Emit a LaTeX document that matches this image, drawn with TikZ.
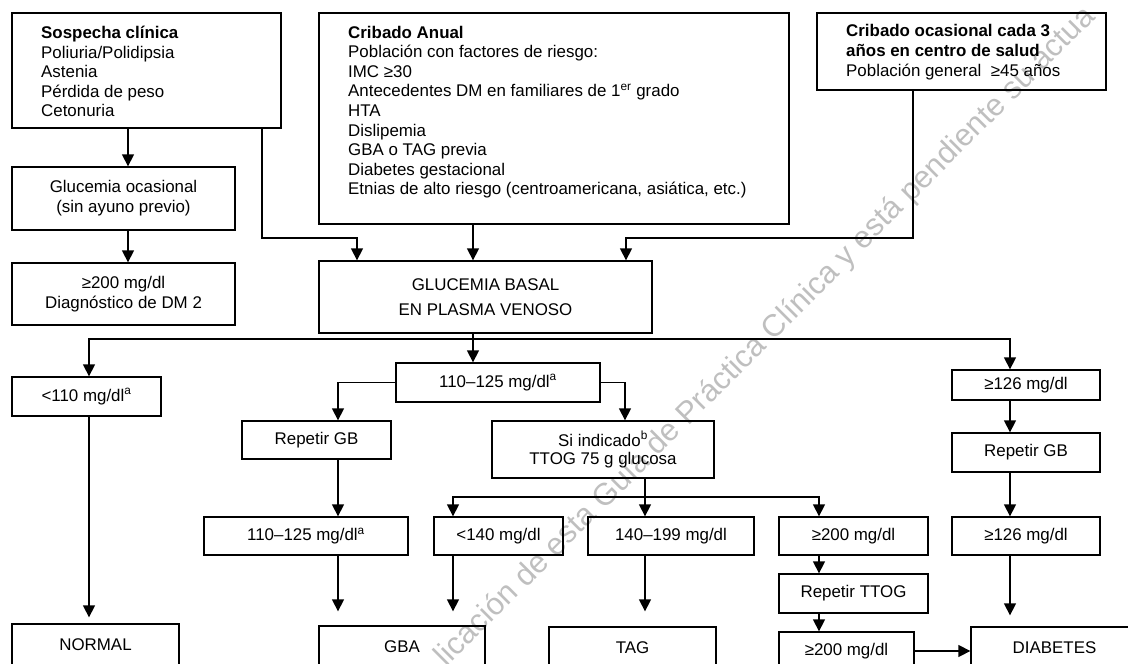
\documentclass[tikz,border=0pt]{standalone}
\usepackage{fontspec}
\setmainfont{Liberation Sans}
\usetikzlibrary{arrows.meta}
\newcommand{\boxfont}{\fontsize{16.9}{20}\selectfont}
\newcommand{\listfont}{\fontsize{16.9}{19.6}\selectfont}
\begin{document}
\begin{tikzpicture}[x=1pt,y=-1pt,
  box/.style={draw,line width=1.3pt,inner sep=0pt,align=center,font=\boxfont},
  dims/.style 2 args={minimum width=#1pt,minimum height=#2pt},
  lista/.style={inner sep=0pt,align=left,anchor=base west,font=\listfont},
  linea/.style={line width=1.3pt},
  flecha/.style={line width=1.3pt,-{Triangle[length=12pt,width=12pt]}},
  marca/.style={text=black!25,inner sep=0pt,font=\fontsize{31}{31}\selectfont}]
\useasboundingbox (0,0) rectangle (1128,664);
\clip (0,0) rectangle (1128,664);
\node[marca,rotate=45,anchor=west] (aviso) at (441,662) {licación de esta Guía de Práctica Clínica y está pendiente su actua};
\node[box,dims={269}{115}] (sospecha) at (146.5,70.5) {};
\node[lista] (sospechatxt) at (41,116.9) {\textbf{Sospecha clínica}\\Poliuria/Polidipsia\\Astenia\\Pérdida de peso\\Cetonuria};
\node[box,dims={470}{211}] (anual) at (554,118.5) {};
\node[lista] (anualtxt) at (348,194.8) {\textbf{Cribado Anual}\\Población con factores de riesgo:\\IMC ≥30\\Antecedentes DM en familiares de 1\textsuperscript{er} grado\\HTA\\Dislipemia\\GBA o TAG previa\\Diabetes gestacional\\Etnias de alto riesgo (centroamericana, asiática, etc.)};
\node[box,dims={289}{77}] (ocasional) at (961.5,51.5) {};
\node[lista] (ocasionaltxt) at (846,76) {\textbf{Cribado ocasional cada 3}\\\textbf{años en centro de salud}\\Población general\ \ ≥45 años};
\node[box,dims={223}{63}] (glocas) at (123.5,198.5) {Glucemia ocasional\\(sin ayuno previo)};
\node[box,dims={223}{62}] (diag) at (123.5,294) {≥200 mg/dl\\Diagnóstico de DM 2};
\node[box,dims={333}{72}] (basal) at (485.5,297) {GLUCEMIA BASAL\\[5pt]EN PLASMA VENOSO};
\node[box,dims={149}{39}] (menor110) at (86.5,396.5) {<110 mg/dl\textsuperscript{a}};
\node[box,dims={204}{39}] (rango1) at (498,382.5) {110--125 mg/dl\textsuperscript{a}};
\node[box,dims={148}{30}] (mayor126) at (1026,385) {≥126 mg/dl};
\node[box,dims={149}{38}] (repetir1) at (316.5,440) {Repetir GB};
\node[box,dims={222}{57}] (indicado) at (603,449.5) {Si indicado\textsuperscript{b}\\[-2pt]TTOG 75 g glucosa};
\node[box,dims={148}{39}] (repetir2) at (1026,452.5) {Repetir GB};
\node[box,dims={204}{38}] (rango2) at (306,536) {110--125 mg/dl\textsuperscript{a}};
\node[box,dims={129}{38}] (menor140) at (498.5,536) {<140 mg/dl};
\node[box,dims={166}{38}] (rango3) at (671,536) {140--199 mg/dl};
\node[box,dims={149}{38}] (mayor200) at (853.5,536) {≥200 mg/dl};
\node[box,dims={148}{38}] (mayor126b) at (1026,536) {≥126 mg/dl};
\node[box,dims={149}{39}] (repttog) at (853.5,593.5) {Repetir TTOG};
\node[box,dims={167}{42}] (normal) at (95.5,645) {NORMAL};
\node[box,dims={166}{42}] (gba) at (402,647) {GBA};
\node[box,dims={167}{42}] (tag) at (632.5,648) {TAG};
\node[box,dims={135}{38}] (mayor200b) at (846.5,651) {≥200 mg/dl};
\node[box,dims={167}{42}] (diabetes) at (1054.5,648) {DIABETES};
\coordinate (codoA) at (262,238);
\coordinate (codoB) at (913,238);
\coordinate (rama) at (473,339);
\coordinate (ramaT) at (645,497);
\coordinate (colA) at (128,0);
\coordinate (colB) at (357,0);
\coordinate (colD) at (626,0);
\coordinate (colN) at (89,0);
\coordinate (colG) at (338,0);
\coordinate (colT) at (625,0);
\coordinate (colM) at (453,0);
\coordinate (colF) at (819,0);
\coordinate (colH) at (1010,0);
\draw[flecha] (sospecha.south -| colA) -- (glocas.north -| colA);
\draw[flecha] (glocas.south -| colA) -- (diag.north -| colA);
\draw[flecha] (sospecha.south -| codoA) -- (codoA) -| (basal.north -| colB);
\draw[flecha] (anual.south -| rama) -- (basal.north -| rama);
\draw[flecha] (ocasional.south -| codoB) -- (codoB) -| (basal.north -| colD);
\draw[linea] (basal.south -| rama) -- (rama);
\draw[flecha] (rama) -- (rango1.north -| rama);
\draw[flecha] (rama) -| (menor110.north -| colN);
\draw[flecha] (rama) -| (mayor126.north -| colH);
\draw[flecha,shorten >=6pt] (menor110.south -| colN) -- (normal.north -| colN);
\draw[flecha] (rango1.west) -| (repetir1.north -| colG);
\draw[flecha] (rango1.east) -| (indicado.north -| colT);
\draw[flecha] (repetir1.south -| colG) -- (rango2.north -| colG);
\draw[flecha,shorten >=14pt] (rango2.south -| colG) -- (gba.north -| colG);
\draw[linea] (indicado.south -| ramaT) -- (ramaT);
\draw[flecha] (ramaT) -- (rango3.north -| ramaT);
\draw[flecha] (ramaT) -| (menor140.north -| colM);
\draw[flecha] (ramaT) -| (mayor200.north -| colF);
\draw[flecha,shorten >=14pt] (menor140.south -| colM) -- (gba.north -| colM);
\draw[flecha,shorten >=15pt] (rango3.south -| ramaT) -- (tag.north -| ramaT);
\draw[flecha] (mayor200.south -| colF) -- (repttog.north -| colF);
\draw[flecha] (repttog.south -| colF) -- (mayor200b.north -| colF);
\draw[flecha] (mayor200b.east) -- (mayor200b.east -| diabetes.west);
\draw[flecha] (mayor126.south -| colH) -- (repetir2.north -| colH);
\draw[flecha] (repetir2.south -| colH) -- (mayor126b.north -| colH);
\draw[flecha,shorten >=11pt] (mayor126b.south -| colH) -- (diabetes.north -| colH);
\end{tikzpicture}
\end{document}
